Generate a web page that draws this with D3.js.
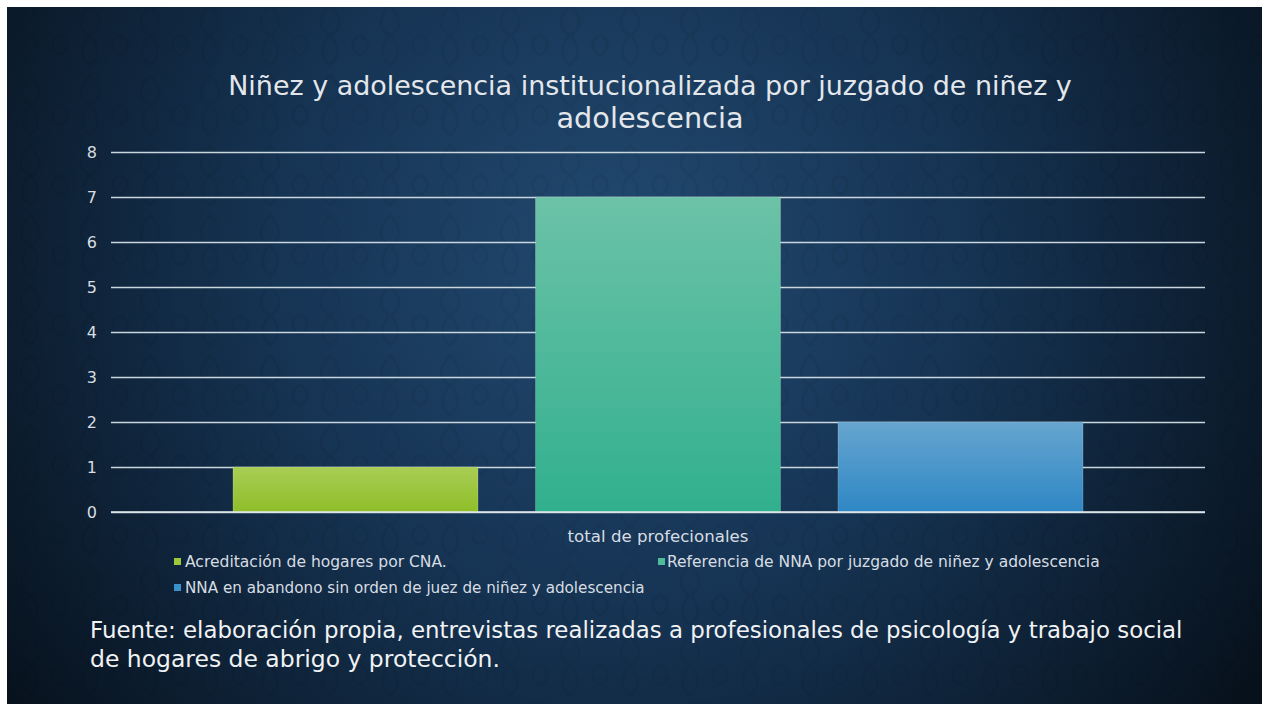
<!DOCTYPE html>
<html>
<head>
<meta charset="utf-8">
<script src="https://cdn.jsdelivr.net/npm/d3@7"></script>
<style>
  html, body { margin: 0; padding: 0; background: #ffffff; }
  svg { display: block; }
  text { font-family: "DejaVu Sans", "Noto Sans", sans-serif; }
</style>
</head>
<body>
<svg id="chart" width="1271" height="708"></svg>
<script>
// ---- data ----
const titleLines = ["Niñez y adolescencia institucionalizada por juzgado de niñez y", "adolescencia"];
const categories = ["total de profecionales"];
const seriesNames = [
  "Acreditación de hogares por CNA.",
  "Referencia de NNA por juzgado de niñez y adolescencia",
  "NNA en abandono sin orden de juez de niñez y adolescencia"
];
const seriesValues = [1, 7, 2];
const yTicks = [0, 1, 2, 3, 4, 5, 6, 7, 8];
const sourceLines = [
  "Fuente: elaboración propia, entrevistas realizadas a profesionales de psicología y trabajo social",
  "de hogares de abrigo y protección."
];
const seriesTop = ["#a9cd55", "#6cc2a7", "#66a5cf"];
const seriesBottom = ["#8fbe29", "#31b08e", "#2e87c5"];
const seriesSwatch = ["#9cc83a", "#4dbb9c", "#3b91cc"];

// ---- layout ----
const svg = d3.select("#chart");
const W = 1271, H = 708;
const slide = {x: 7, y: 7, w: 1255, h: 697};
const plot = {left: 111, right: 1205, top: 152, bottom: 512};

const defs = svg.append("defs");
const bg = defs.append("radialGradient").attr("id", "bg")
  .attr("gradientUnits", "userSpaceOnUse")
  .attr("cx", 620).attr("cy", 260).attr("r", 760);
bg.append("stop").attr("offset", "0").attr("stop-color", "#224a70");
bg.append("stop").attr("offset", "0.45").attr("stop-color", "#163454");
bg.append("stop").attr("offset", "1").attr("stop-color", "#07111c");

// subtle damask-like pattern
const pat = defs.append("pattern").attr("id", "damask")
  .attr("patternUnits", "userSpaceOnUse").attr("width", 60).attr("height", 70);
pat.append("path")
  .attr("d", "M30,5 C42,18 42,30 30,35 C18,30 18,18 30,5 Z M30,35 C40,45 40,58 30,65 C20,58 20,45 30,35 Z M0,35 C10,40 10,50 0,55 M60,35 C50,40 50,50 60,55")
  .attr("fill", "none").attr("stroke", "#000000").attr("stroke-opacity", 0.05).attr("stroke-width", 3);

seriesNames.forEach((s, i) => {
  const g = defs.append("linearGradient").attr("id", "bar" + i)
    .attr("x1", 0).attr("y1", 0).attr("x2", 0).attr("y2", 1);
  g.append("stop").attr("offset", 0).attr("stop-color", seriesTop[i]);
  g.append("stop").attr("offset", 1).attr("stop-color", seriesBottom[i]);
});

svg.append("rect").attr("x", 0).attr("y", 0).attr("width", W).attr("height", H).attr("fill", "#ffffff");
svg.append("rect").attr("x", slide.x).attr("y", slide.y).attr("width", slide.w).attr("height", slide.h).attr("fill", "url(#bg)");
svg.append("rect").attr("x", slide.x).attr("y", slide.y).attr("width", slide.w).attr("height", slide.h).attr("fill", "url(#damask)");

function fit(sel, target) {
  const n = sel.node();
  const fs = parseFloat(sel.attr("font-size"));
  const w = n.getComputedTextLength();
  if (w > 0) sel.attr("font-size", (fs * target / w).toFixed(2));
  return sel;
}

// ---- title ----
const titleBaselines = [95, 128];
const titleWidths = [844, 187];
titleLines.forEach((t, i) => {
  const tx = svg.append("text").attr("x", 650).attr("y", titleBaselines[i])
    .attr("text-anchor", "middle").attr("fill", "#e3e7eb").attr("font-size", 24).text(t);
  fit(tx, titleWidths[i]);
});

// ---- scales ----
const y = d3.scaleLinear().domain([0, 8]).range([plot.bottom, plot.top]);
const x0 = d3.scaleBand().domain(categories).range([plot.left, plot.right]).paddingInner(0).paddingOuter(0.1435);
const x1 = d3.scaleBand().domain(seriesNames).range([0, x0.bandwidth()]).paddingInner(0.19).paddingOuter(0);

// gridlines
const yAxis = d3.axisLeft(y).tickValues(yTicks).tickSize(-(plot.right - plot.left)).tickPadding(14).tickFormat(d3.format("d"));
const ga = svg.append("g").attr("transform", `translate(${plot.left},0)`).call(yAxis);
ga.select(".domain").remove();
ga.selectAll(".tick line").attr("stroke", "#c9d6dd").attr("stroke-width", 1.5);
ga.selectAll(".tick text").attr("fill", "#d7dde2").attr("font-size", 16).attr("font-family", "DejaVu Sans, sans-serif");

// bars
const gb = svg.append("g");
categories.forEach(c => {
  gb.selectAll("rect.bar").data(seriesValues).join("rect").attr("class", "bar")
    .attr("x", (d, i) => x0(c) + x1(seriesNames[i]))
    .attr("width", x1.bandwidth())
    .attr("y", d => y(d))
    .attr("height", d => y(0) - y(d))
    .attr("fill", (d, i) => `url(#bar${i})`)
    .attr("stroke", "#ffffff").attr("stroke-opacity", 0.18).attr("stroke-width", 1);
});

// baseline
svg.append("line").attr("x1", plot.left).attr("x2", plot.right).attr("y1", y(0)).attr("y2", y(0))
  .attr("stroke", "#dfe7ea").attr("stroke-width", 1.5);

// category label
const xAxis = d3.axisBottom(x0).tickSize(0).tickPadding(18);
const gx = svg.append("g").attr("transform", `translate(0,${plot.bottom})`).call(xAxis);
gx.select(".domain").remove();
gx.selectAll(".tick text").attr("fill", "#d7dde2").attr("font-size", 13).attr("font-family", "DejaVu Sans, sans-serif")
  .each(function() { fit(d3.select(this), 181); });

// ---- legend ----
const legendPos = [
  {sx: 174, tx: 185, y: 567, w: 262},
  {sx: 658, tx: 667, y: 567, w: 433},
  {sx: 174, tx: 185, y: 593, w: 460}
];
seriesNames.forEach((s, i) => {
  const p = legendPos[i];
  svg.append("rect").attr("x", p.sx).attr("y", p.y - 9).attr("width", 7).attr("height", 7).attr("fill", seriesSwatch[i]);
  const t = svg.append("text").attr("x", p.tx).attr("y", p.y).attr("fill", "#d7dde2").attr("font-size", 14).text(s);
  fit(t, p.w);
});

// ---- source ----
const srcBase = [638, 667];
const srcW = [1093, 410];
sourceLines.forEach((s, i) => {
  const t = svg.append("text").attr("x", 90).attr("y", srcBase[i]).attr("fill", "#f0f2f4").attr("font-size", 22).text(s);
  fit(t, srcW[i]);
});
</script>
</body>
</html>
